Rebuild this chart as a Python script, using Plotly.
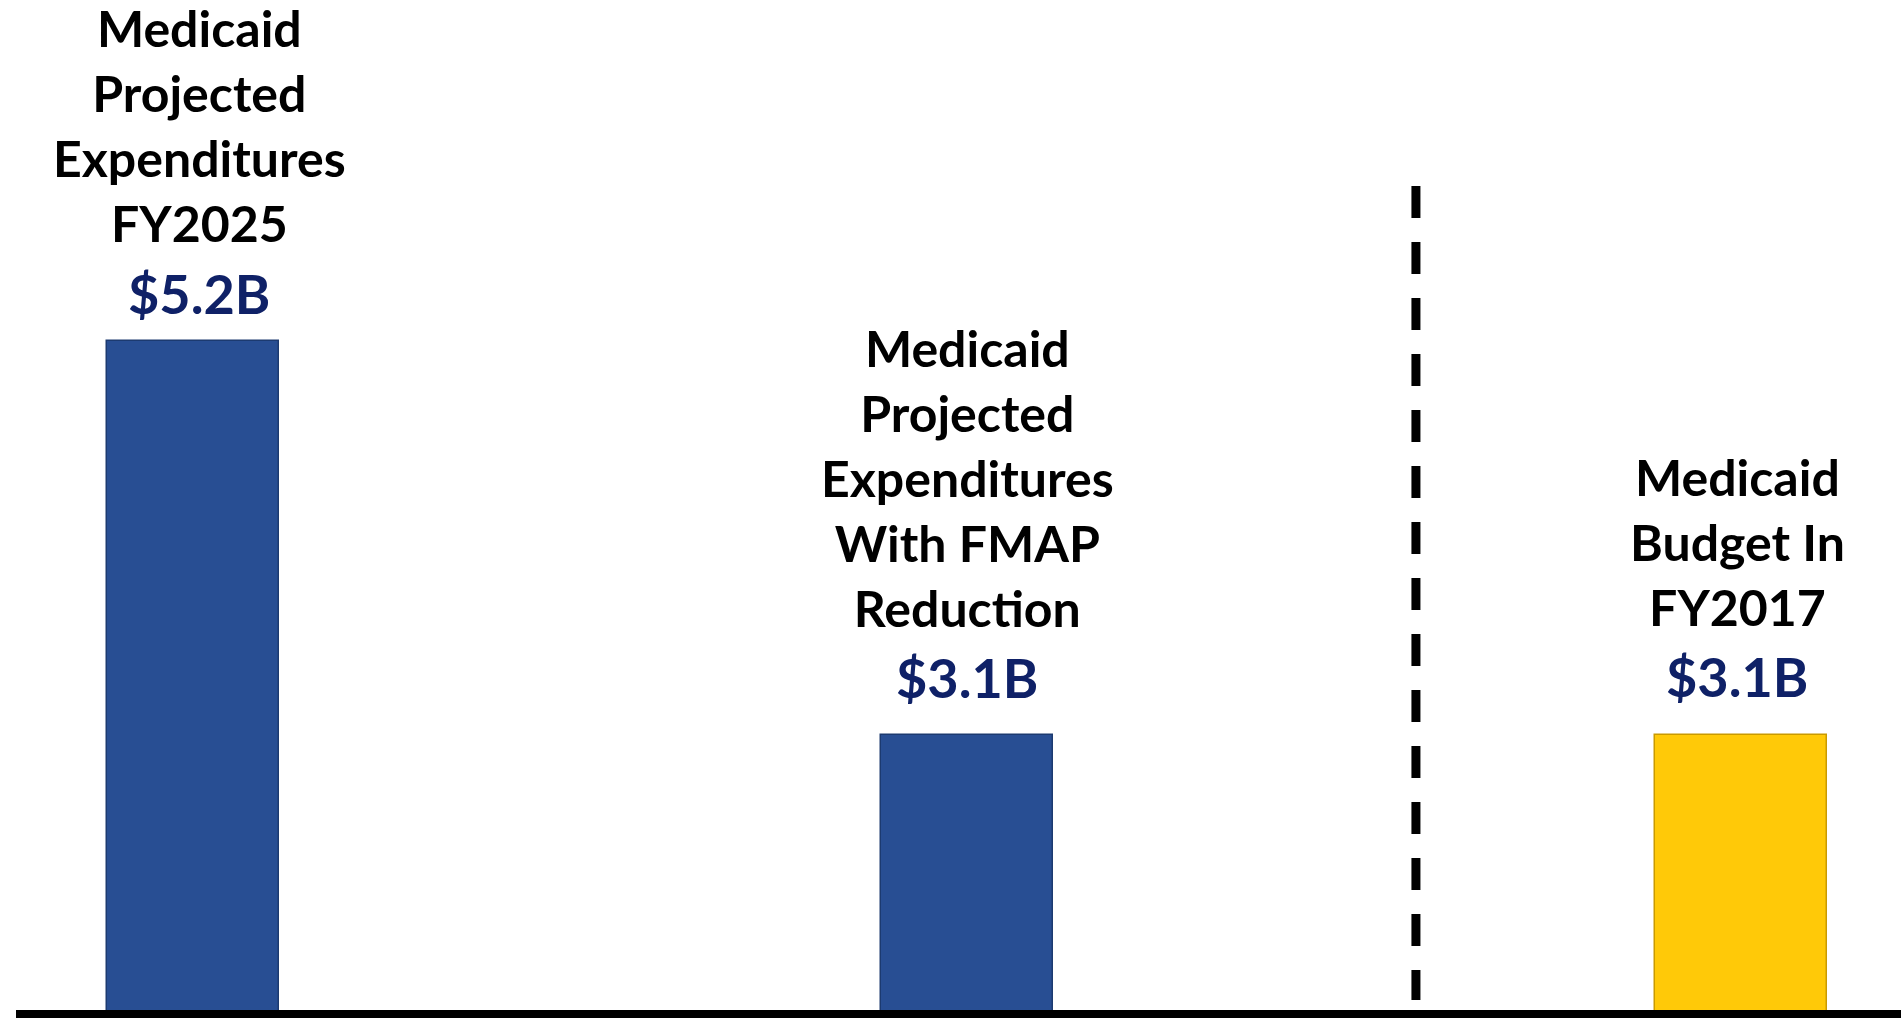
import plotly.graph_objects as go

categories = ["FY2025 Projected", "FMAP Reduction", "FY2017 Budget"]
values = [5.2, 3.1, 3.1]
value_labels = ["$5.2B", "$3.1B", "$3.1B"]
descriptions = [
    "Medicaid<br>Projected<br>Expenditures<br>FY2025",
    "Medicaid<br>Projected<br>Expenditures<br>With FMAP<br>Reduction",
    "Medicaid<br>Budget In<br>FY2017",
]
bar_colors = ["#284E93", "#284E93", "#FFC908"]
edge_colors = ["#1C3A70", "#1C3A70", "#C99A00"]
value_shift = [13, 23, 24]
desc_shift = [86, 95, 96]
text_xshift = [6, 0, -4]

FONT = "Lato, 'Open Sans', sans-serif"

fig = go.Figure()
fig.add_trace(go.Bar(
    x=categories, y=values, width=0.222,
    marker=dict(color=bar_colors, line=dict(color=edge_colors, width=1.5)),
    hoverinfo="skip", showlegend=False,
))

for c, v, lab, d, vs, ds, xs in zip(categories, values, value_labels, descriptions,
                                     value_shift, desc_shift, text_xshift):
    fig.add_annotation(x=c, y=v, xref="x", yref="y", text="<b>%s</b>" % lab,
                       showarrow=False, yanchor="bottom", yshift=vs, xshift=xs,
                       font=dict(family=FONT, size=54, color="#0F2167"))
    fig.add_annotation(x=c, y=v, xref="x", yref="y", text="<b>%s</b>" % d,
                       showarrow=False, yanchor="bottom", yshift=ds, xshift=xs,
                       font=dict(family=FONT, size=50, color="#000000"))

# dashed separator between projections and FY2017 budget
fig.add_shape(type="line", xref="x", yref="y", x0=1.58, x1=1.58, y0=6.026, y1=1.687,
              line=dict(color="black", width=9, dash="32px,24px"))

fig.update_layout(
    width=1901, height=1021,
    margin=dict(l=16, r=0, t=0, b=11, pad=0, autoexpand=False),
    paper_bgcolor="white", plot_bgcolor="white",
    bargap=0,
    xaxis=dict(range=[-0.2287, 2.2067], showticklabels=False, ticks="", automargin=False,
               showgrid=False, zeroline=False, showline=True, linecolor="black", linewidth=8),
    yaxis=dict(range=[1.634, 7.018], visible=False, showgrid=False, zeroline=False,
               automargin=False),
)

fig.write_html("out.html", config={"displayModeBar": False},
               post_script="document.body.style.margin='0';document.body.style.overflow='hidden';")
